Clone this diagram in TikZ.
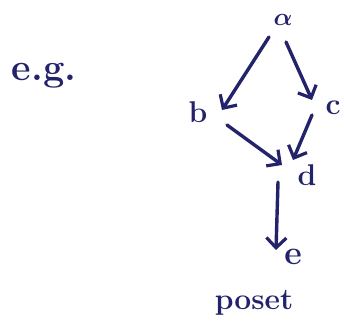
\documentclass[tikz,border=0pt]{standalone}
\usetikzlibrary{arrows.meta}
\definecolor{ink}{HTML}{23236B}
\begin{document}
\begin{tikzpicture}[x=1pt,y=-1pt,
  lbl/.style={text=ink,font=\fontsize{30}{30}\selectfont\bfseries\boldmath,inner sep=0pt},
  arr/.style={draw=ink,line width=3.4pt,line cap=round,-{Straight Barb[length=10pt,width=20pt,line width=3.2pt]}}]
\useasboundingbox (0,0) rectangle (344,328);
\node[lbl] (a) at (283,20) {$\alpha$};
\node[lbl] (b) at (198,112) {b};
\node[lbl] (c) at (333,108) {c};
\node[lbl] (d) at (307,175) {d};
\node[lbl,font=\fontsize{34}{34}\selectfont\bfseries] (e) at (293,257) {e};
\node[lbl,font=\fontsize{38}{38}\selectfont\bfseries] (eg) at (44,76) {e.g.};
\node[lbl] (poset) at (254,303) {poset};
\draw[arr] ([shift={(-14,17)}]a.center) -- ([shift={(24,-2)}]b.center);
\draw[arr] ([shift={(3,22)}]a.center) -- ([shift={(-21,-8)}]c.center);
\draw[arr] ([shift={(29,13)}]b.center) -- ([shift={(-25,-10)}]d.center);
\draw[arr] ([shift={(-21,7)}]c.center) -- ([shift={(-14,-15)}]d.center);
\draw[arr] ([shift={(-29,7)}]d.center) -- ([shift={(-17,-7)}]e.center);
\end{tikzpicture}
\end{document}
